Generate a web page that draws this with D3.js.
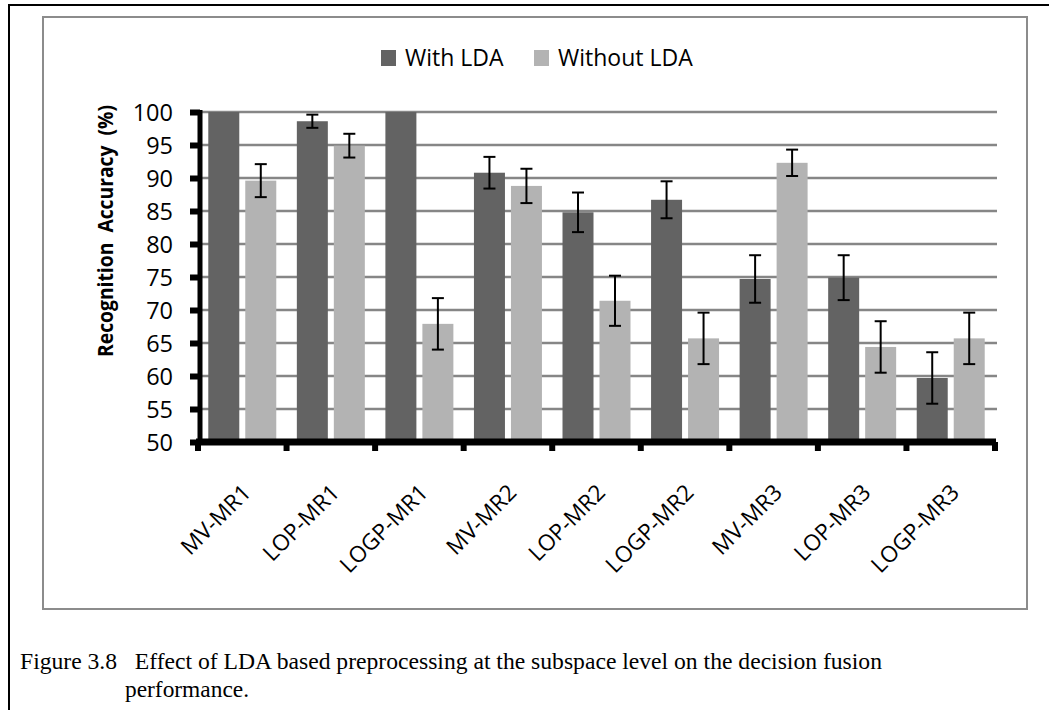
<!DOCTYPE html>
<html>
<head>
<meta charset="utf-8">
<script src="https://cdn.jsdelivr.net/npm/d3@7/dist/d3.min.js"></script>
<style>
  body { margin: 0; background: #fff; }
  svg { display: block; }
</style>
</head>
<body>
<svg id="chart" width="1049" height="710"></svg>
<script>
// data
var categories = ['MV-MR1', 'LOP-MR1', 'LOGP-MR1', 'MV-MR2', 'LOP-MR2', 'LOGP-MR2', 'MV-MR3', 'LOP-MR3', 'LOGP-MR3'];
var seriesNames = ['With LDA', 'Without LDA'];
var withLDA = [100, 98.6, 100, 90.8, 84.8, 86.7, 74.7, 74.9, 59.7];
var withLDAErr = [0, 1.0, 0, 2.4, 3.0, 2.8, 3.6, 3.4, 3.9];
var withoutLDA = [89.6, 94.9, 67.9, 88.8, 71.4, 65.7, 92.3, 64.4, 65.7];
var withoutLDAErr = [2.5, 1.8, 3.9, 2.6, 3.8, 3.9, 2.0, 3.9, 3.9];
var yTicks = [50, 55, 60, 65, 70, 75, 80, 85, 90, 95, 100];

var colors = { 'With LDA': '#636363', 'Without LDA': '#b3b3b3' };
var font = '"Open Sans", "DejaVu Sans", sans-serif';

var svg = d3.select('#chart');

// outer page frame and inner chart frame
svg.append('rect').attr('x', 9).attr('y', 5).attr('width', 1060).attr('height', 720)
    .attr('fill', 'none').attr('stroke', '#000').attr('stroke-width', 2);
svg.append('rect').attr('x', 43).attr('y', 17).attr('width', 984).attr('height', 592)
    .attr('fill', '#fff').attr('stroke', '#8c8c8c').attr('stroke-width', 2);

var plot = { left: 200, right: 996, top: 112, bottom: 442 };

var x0 = d3.scaleBand().domain(categories).range([198, 995]);
var x1 = d3.scaleBand().domain(seriesNames).range([0, x0.bandwidth()])
    .paddingInner(0.162).paddingOuter(0.278);
var y = d3.scaleLinear().domain([50, 100]).range([plot.bottom, plot.top]);

// gridlines
svg.append('g').selectAll('line').data(yTicks.slice(1)).join('line')
    .attr('x1', plot.left).attr('x2', 997)
    .attr('y1', function (d) { return y(d); }).attr('y2', function (d) { return y(d); })
    .attr('stroke', '#868686').attr('stroke-width', 2.5);

var rows = categories.map(function (c, i) {
    return [
        { cat: c, name: 'With LDA', value: withLDA[i], err: withLDAErr[i] },
        { cat: c, name: 'Without LDA', value: withoutLDA[i], err: withoutLDAErr[i] }
    ];
});

var groups = svg.append('g').selectAll('g').data(rows).join('g')
    .attr('transform', function (d) { return 'translate(' + x0(d[0].cat) + ',0)'; });

groups.selectAll('rect').data(function (d) { return d; }).join('rect')
    .attr('x', function (d) { return x1(d.name); })
    .attr('y', function (d) { return y(d.value); })
    .attr('width', x1.bandwidth())
    .attr('height', function (d) { return y(50) - y(d.value); })
    .attr('fill', function (d) { return colors[d.name]; });

// error bars
var errs = groups.selectAll('g.err').data(function (d) { return d.filter(function (e) { return e.err > 0; }); })
    .join('g').attr('class', 'err')
    .attr('stroke', '#000').attr('stroke-width', 2);
errs.append('line')
    .attr('x1', function (d) { return x1(d.name) + x1.bandwidth() / 2; })
    .attr('x2', function (d) { return x1(d.name) + x1.bandwidth() / 2; })
    .attr('y1', function (d) { return y(d.value + d.err); })
    .attr('y2', function (d) { return y(d.value - d.err); });
[1, -1].forEach(function (s) {
    errs.append('line')
        .attr('x1', function (d) { return x1(d.name) + x1.bandwidth() / 2 - 6; })
        .attr('x2', function (d) { return x1(d.name) + x1.bandwidth() / 2 + 6; })
        .attr('y1', function (d) { return y(d.value + s * d.err); })
        .attr('y2', function (d) { return y(d.value + s * d.err); });
});

// y axis
var yAxis = svg.append('g').attr('transform', 'translate(' + plot.left + ',0)')
    .call(d3.axisLeft(y).tickValues(yTicks).tickSize(10).tickPadding(17));
yAxis.select('.domain').attr('stroke', '#000').attr('stroke-width', 5)
    .attr('d', 'M0,' + (plot.top - 2) + 'V' + (plot.bottom + 3));
yAxis.selectAll('.tick line').attr('stroke', '#000').attr('stroke-width', 6);
yAxis.selectAll('.tick text').attr('font-family', font).attr('font-size', 23.5)
    .attr('fill', '#000').attr('dy', '0.36em');

// x axis
var xAxis = svg.append('g').attr('transform', 'translate(0,' + plot.bottom + ')');
xAxis.append('line').attr('x1', 196).attr('x2', 996).attr('y1', 0).attr('y2', 0)
    .attr('stroke', '#000').attr('stroke-width', 7);
xAxis.selectAll('line.tk').data(categories.concat(['end'])).join('line').attr('class', 'tk')
    .attr('x1', function (d, i) { return 198 + i * x0.step(); })
    .attr('x2', function (d, i) { return 198 + i * x0.step(); })
    .attr('y1', 0).attr('y2', 9)
    .attr('stroke', '#000').attr('stroke-width', 6);
xAxis.selectAll('text').data(categories).join('text')
    .attr('transform', function (d) {
        return 'translate(' + (x0(d) + x0.bandwidth() / 2 + 10) + ',52) rotate(-45)';
    })
    .attr('text-anchor', 'end')
    .attr('font-family', font).attr('font-size', 22.5).attr('fill', '#000')
    .text(function (d) { return d; });

// y axis title
svg.append('text')
    .attr('transform', 'translate(113,231) rotate(-90)')
    .attr('text-anchor', 'middle')
    .attr('font-family', font).attr('font-size', 21).attr('font-weight', 'bold')
    .attr('textLength', 252).attr('lengthAdjust', 'spacingAndGlyphs')
    .attr('xml:space', 'preserve')
    .text('Recognition  Accuracy  (%)');

// legend
var legend = svg.append('g');
var legendX = [381, 534];
seriesNames.forEach(function (name, i) {
    legend.append('rect').attr('x', legendX[i]).attr('y', 50).attr('width', 15).attr('height', 16)
        .attr('fill', colors[name]);
    legend.append('text').attr('x', legendX[i] + 24).attr('y', 66)
        .attr('font-family', font).attr('font-size', 23).attr('fill', '#000')
        .text(name);
});

// caption
var serif = '"Liberation Serif", "Times New Roman", serif';
svg.append('text').attr('x', 20).attr('y', 669)
    .attr('font-family', serif).attr('font-size', 24)
    .attr('textLength', 862).attr('lengthAdjust', 'spacingAndGlyphs')
    .attr('xml:space', 'preserve')
    .text('Figure 3.8   Effect of LDA based preprocessing at the subspace level on the decision fusion');
svg.append('text').attr('x', 125).attr('y', 697)
    .attr('font-family', serif).attr('font-size', 24)
    .attr('textLength', 124).attr('lengthAdjust', 'spacingAndGlyphs')
    .text('performance.');
</script>
</body>
</html>
